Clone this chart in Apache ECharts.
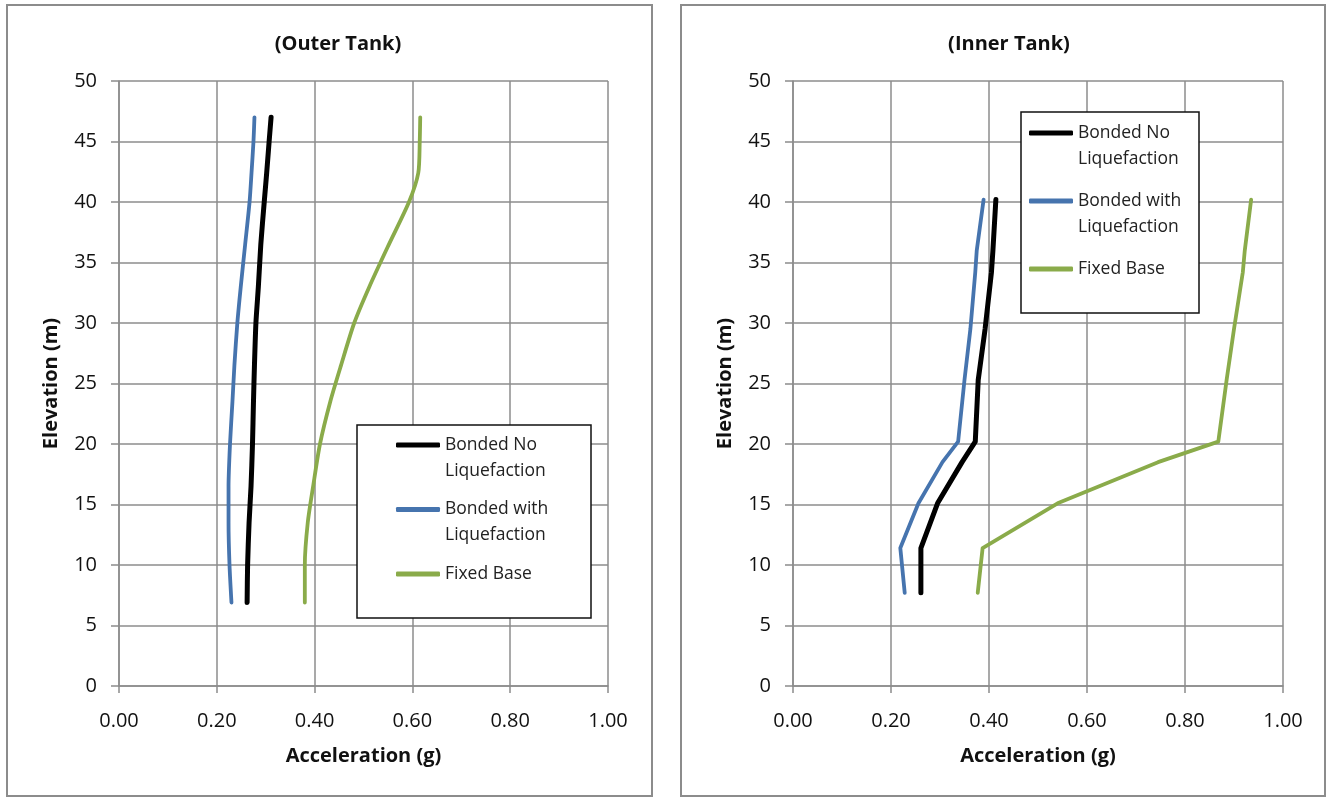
<!DOCTYPE html>
<html>
<head>
<meta charset="utf-8">
<script src="https://cdn.jsdelivr.net/npm/echarts@6/dist/echarts.min.js"></script>
<style>
html,body{margin:0;padding:0;background:#fff;}
#c{width:1332px;height:797px;}
</style>
</head>
<body>
<div id="c"></div>
<script>
// ---- data ----
const seriesNames = ['Bonded No Liquefaction', 'Bonded with Liquefaction', 'Fixed Base'];
const legendLabels = ['\nBonded No\nLiquefaction', '\nBonded with\nLiquefaction', '\nFixed Base\n '];
const xTicks = [0, 0.2, 0.4, 0.6, 0.8, 1.0];
const yTicks = [0, 5, 10, 15, 20, 25, 30, 35, 40, 45, 50];

const outerElev = [6.9, 10, 13.5, 16.5, 20, 23.5, 26.5, 30, 33, 36.5, 40, 42.4, 45, 47];
const outerNoLiq = [0.262, 0.263, 0.266, 0.270, 0.273, 0.275, 0.277, 0.280, 0.285, 0.290, 0.297, 0.302, 0.307, 0.311];
const outerWithLiq = [0.230, 0.226, 0.224, 0.224, 0.227, 0.232, 0.236, 0.242, 0.249, 0.258, 0.267, 0.271, 0.275, 0.277];
const outerFixed = [0.380, 0.380, 0.386, 0.397, 0.411, 0.432, 0.454, 0.481, 0.512, 0.552, 0.593, 0.612, 0.615, 0.616];

const innerElev = [7.7, 11.4, 15.1, 18.5, 20.2, 25.3, 29.5, 34.2, 36, 40.2];
const innerNoLiq = [0.261, 0.261, 0.295, 0.345, 0.372, 0.378, 0.392, 0.405, 0.408, 0.414];
const innerWithLiq = [0.228, 0.219, 0.256, 0.305, 0.337, 0.350, 0.362, 0.372, 0.375, 0.389];
const innerFixed = [0.377, 0.387, 0.540, 0.745, 0.868, 0.885, 0.900, 0.918, 0.922, 0.935];

// ---- styling ----
const FONT = '"Open Sans", "Noto Sans", sans-serif';
const GRIDC = '#8c8c8c';
const colors = ['#000000', '#4674ae', '#8aab4a'];
const widths = [5, 3.8, 3.8];

function pairs(xs, ys) { return xs.map((x, i) => [x, ys[i]]); }

function xAxisFor(gi) {
  return {
    gridIndex: gi, type: 'value', min: 0, max: 1, interval: 0.2,
    name: 'Acceleration (g)', nameLocation: 'middle', nameGap: 60,
    nameTextStyle: {fontFamily: FONT, fontWeight: 'bold', fontSize: 20, color: '#111'},
    axisLine: {show: true, onZero: false, lineStyle: {color: GRIDC, width: 1.5}},
    axisTick: {show: true, length: 7, lineStyle: {color: GRIDC, width: 1.5}},
    axisLabel: {margin: 25, fontFamily: FONT, fontSize: 20, color: '#111',
      formatter: v => v.toFixed(2)},
    splitLine: {show: true, lineStyle: {color: GRIDC, width: 1.5}}
  };
}
function yAxisFor(gi) {
  return {
    gridIndex: gi, type: 'value', min: 0, max: 50, interval: 5,
    name: 'Elevation (m)', nameLocation: 'middle', nameGap: 58,
    nameTextStyle: {fontFamily: FONT, fontWeight: 'bold', fontSize: 20, color: '#111'},
    axisLine: {show: true, onZero: false, lineStyle: {color: GRIDC, width: 1.5}},
    axisTick: {show: true, length: 8, lineStyle: {color: GRIDC, width: 1.5}},
    axisLabel: {margin: 22, fontFamily: FONT, fontSize: 20, color: '#111'},
    splitLine: {show: true, lineStyle: {color: GRIDC, width: 1.5}}
  };
}

const outerData = [outerNoLiq, outerWithLiq, outerFixed];
const innerData = [innerNoLiq, innerWithLiq, innerFixed];
const series = [];
outerData.forEach((d, i) => series.push({
  type: 'line', name: seriesNames[i], xAxisIndex: 0, yAxisIndex: 0,
  data: pairs(d, outerElev), symbol: 'none', smooth: 0.25,
  lineStyle: {color: colors[i], width: widths[i], cap: 'round', join: 'round'},
  itemStyle: {color: colors[i]}, z: 3 - i
}));
innerData.forEach((d, i) => series.push({
  type: 'line', name: seriesNames[i], xAxisIndex: 1, yAxisIndex: 1,
  data: pairs(d, innerElev), symbol: 'none',
  lineStyle: {color: colors[i], width: widths[i], cap: 'round', join: 'round'},
  itemStyle: {color: colors[i]}, z: 3 - i
}));

function legendFor(left, top, gap) {
  return {
    orient: 'vertical', left: left, top: top, padding: 0,
    itemWidth: 44, itemHeight: 5, itemGap: gap, z: 10,
    selectedMode: false, icon: 'roundRect',
    formatter: name => legendLabels[seriesNames.indexOf(name)],
    textStyle: {fontFamily: FONT, fontSize: 17.5, color: '#222', lineHeight: 26},
    data: seriesNames.map(n => ({name: n, icon: 'roundRect'}))
  };
}

const option = {
  backgroundColor: '#fff',
  animation: false,
  title: [
    {text: '(Outer Tank)', left: 338, top: 34, padding: 0, textAlign: 'center',
      textStyle: {fontFamily: FONT, fontWeight: 'bold', fontSize: 20, color: '#111'}},
    {text: '(Inner Tank)', left: 1009, top: 34, padding: 0, textAlign: 'center',
      textStyle: {fontFamily: FONT, fontWeight: 'bold', fontSize: 20, color: '#111'}}
  ],
  grid: [
    {left: 119, top: 81, width: 489, height: 605},
    {left: 793, top: 81, width: 490, height: 605}
  ],
  xAxis: [xAxisFor(0), xAxisFor(1)],
  yAxis: [yAxisFor(0), yAxisFor(1)],
  legend: [legendFor(396, 406, -13.5), legendFor(1029, 94, -10)],
  graphic: [
    {type: 'rect', z: -1, shape: {x: 7, y: 5, width: 645, height: 791},
      style: {fill: 'none', stroke: GRIDC, lineWidth: 2}},
    {type: 'rect', z: -1, shape: {x: 681, y: 5, width: 644, height: 791},
      style: {fill: 'none', stroke: GRIDC, lineWidth: 2}},
    {type: 'rect', z: 8, shape: {x: 357, y: 425, width: 234, height: 193},
      style: {fill: '#fff', stroke: '#111', lineWidth: 1.5}},
    {type: 'rect', z: 8, shape: {x: 1021, y: 112, width: 178, height: 201},
      style: {fill: '#fff', stroke: '#111', lineWidth: 1.5}}
  ],
  series: series
};

const chart = echarts.init(document.getElementById('c'), null, {renderer: 'canvas'});
chart.setOption(option);
</script>
</body>
</html>
